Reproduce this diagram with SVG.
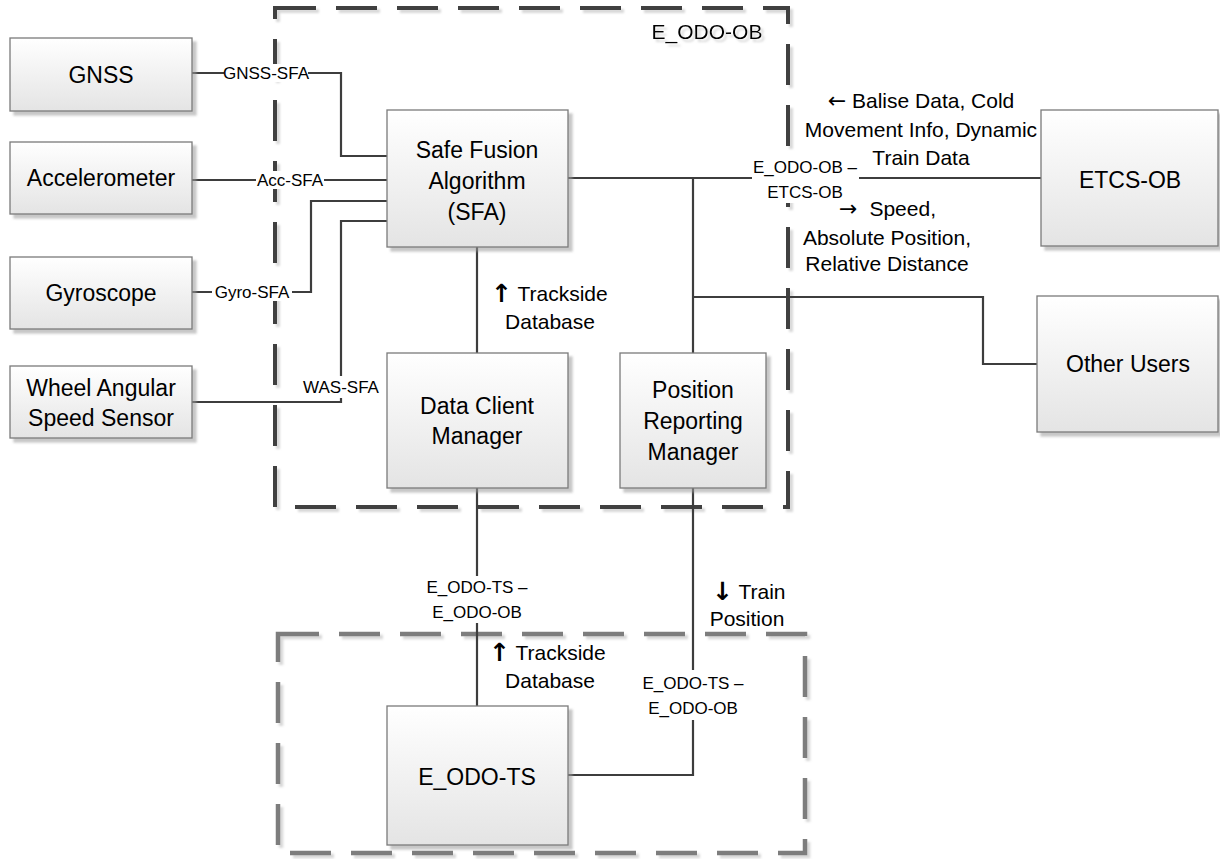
<svg xmlns="http://www.w3.org/2000/svg" width="1220" height="859" viewBox="0 0 1220 859">
<defs>
<linearGradient id="boxfill" x1="0" y1="0" x2="0" y2="1">
<stop offset="0" stop-color="#ffffff"/>
<stop offset="1" stop-color="#e4e4e4"/>
</linearGradient>
<filter id="sh" x="-10%" y="-10%" width="125%" height="125%">
<feDropShadow dx="4" dy="4" stdDeviation="1.2" flood-color="#9a9a9a" flood-opacity="0.55"/>
</filter>
<filter id="shl" x="-5%" y="-5%" width="115%" height="115%">
<feDropShadow dx="3" dy="3" stdDeviation="1" flood-color="#b0b0b0" flood-opacity="0.5"/>
</filter>
</defs>
<style>
.box{fill:url(#boxfill);stroke:#7a7a7a;stroke-width:1.3;filter:url(#sh)}
.bt{font-family:"Liberation Sans",Arial,sans-serif;font-size:23px;fill:#000;text-anchor:middle;dominant-baseline:central}
.cl{font-family:"Liberation Sans",Arial,sans-serif;font-size:17px;fill:#000;text-anchor:middle;dominant-baseline:central}
.dl{font-family:"Liberation Sans",Arial,sans-serif;font-size:21px;fill:#000;text-anchor:middle;dominant-baseline:central}
.st{text-anchor:start}
.ar{font-family:"DejaVu Sans",sans-serif;font-weight:bold;font-size:25px}
.at{font-family:"DejaVu Sans",sans-serif;font-size:22px}
.conn{fill:none;stroke:#3d3d3d;stroke-width:2.2}
.lbg{fill:#ffffff}
</style>
<rect width="1220" height="859" fill="#ffffff"/>

<g id="boundary-E_ODO-OB" filter="url(#shl)">
<path d="M275 8 H788 V507 H275 Z" fill="none" stroke="#404040" stroke-width="4" stroke-dasharray="41 20"/>
<text class="dl" x="707" y="31">E_ODO-OB</text>
</g>
<g id="boundary-E_ODO-TS" filter="url(#shl)">
<path d="M278 634 H805 V853 H278 Z" fill="none" stroke="#7d7d7d" stroke-width="4.5" stroke-dasharray="41 20"/>
</g>

<g id="connectors">
<path class="conn" d="M192 73 H341 V156 H387"/>
<path class="conn" d="M192 180 H387"/>
<path class="conn" d="M192 292 H311 V201 H387"/>
<path class="conn" d="M192 402 H341 V221 H387"/>
<path class="conn" d="M568 178 H1041"/>
<path class="conn" d="M693 178 V353"/>
<path class="conn" d="M693 297 H983 V364 H1037"/>
<path class="conn" d="M477 247 V353"/>
<path class="conn" d="M477 488 V707"/>
<path class="conn" d="M693 488 V775 H568"/>

<rect class="lbg" x="224" y="64" width="84" height="18"/>
<text class="cl" x="266" y="73">GNSS-SFA</text>
<rect class="lbg" x="256" y="171" width="68" height="18"/>
<text class="cl" x="290" y="180">Acc-SFA</text>
<rect class="lbg" x="212" y="283" width="80" height="18"/>
<text class="cl" x="252" y="292">Gyro-SFA</text>
<rect class="lbg" x="301" y="376" width="80" height="22"/>
<text class="cl" x="341" y="387">WAS-SFA</text>

<rect class="lbg" x="752" y="156" width="107" height="47"/>
<text class="cl" x="805" y="167">E_ODO-OB –</text>
<text class="cl" x="805" y="192">ETCS-OB</text>

<rect class="lbg" x="424" y="576" width="106" height="47"/>
<text class="cl" x="477" y="587">E_ODO-TS –</text>
<text class="cl" x="477" y="612">E_ODO-OB</text>

<rect class="lbg" x="640" y="670" width="106" height="50"/>
<text class="cl" x="693" y="683">E_ODO-TS –</text>
<text class="cl" x="693" y="708">E_ODO-OB</text>

<text class="dl" x="921" y="100"><tspan class="at">←</tspan> Balise Data, Cold</text>
<text class="dl" x="921" y="129">Movement Info, Dynamic</text>
<text class="dl" x="921" y="157">Train Data</text>
<text class="dl st" x="839" y="208"><tspan class="at">→</tspan><tspan dx="12">Speed,</tspan></text>
<text class="dl" x="887" y="237">Absolute Position,</text>
<text class="dl" x="887" y="263">Relative Distance</text>

<text class="dl st" x="491" y="293"><tspan class="ar">↑</tspan> Trackside</text>
<text class="dl" x="550" y="321">Database</text>
<text class="dl st" x="489" y="652"><tspan class="ar">↑</tspan> Trackside</text>
<text class="dl" x="550" y="680">Database</text>
<text class="dl st" x="712" y="591"><tspan class="ar">↓</tspan> Train</text>
<text class="dl" x="747" y="618">Position</text>
</g>

<g id="node-gnss"><rect class="box" x="10" y="38" width="182" height="73"/><text class="bt" x="101" y="75">GNSS</text></g>
<g id="node-accelerometer"><rect class="box" x="10" y="142" width="182" height="72"/><text class="bt" x="101" y="178">Accelerometer</text></g>
<g id="node-gyroscope"><rect class="box" x="10" y="257" width="182" height="72"/><text class="bt" x="101" y="293">Gyroscope</text></g>
<g id="node-was"><rect class="box" x="10" y="366" width="182" height="72"/><text class="bt" x="101" y="388">Wheel Angular</text><text class="bt" x="101" y="418">Speed Sensor</text></g>
<g id="node-sfa"><rect class="box" x="387" y="110" width="181" height="137"/><text class="bt" x="477" y="150">Safe Fusion</text><text class="bt" x="477" y="181">Algorithm</text><text class="bt" x="477" y="212">(SFA)</text></g>
<g id="node-dcm"><rect class="box" x="387" y="353" width="181" height="135"/><text class="bt" x="477" y="406">Data Client</text><text class="bt" x="477" y="436">Manager</text></g>
<g id="node-prm"><rect class="box" x="620" y="353" width="146" height="135"/><text class="bt" x="693" y="390">Position</text><text class="bt" x="693" y="421">Reporting</text><text class="bt" x="693" y="452">Manager</text></g>
<g id="node-etcs-ob"><rect class="box" x="1041" y="110" width="177" height="136"/><text class="bt" x="1130" y="180">ETCS-OB</text></g>
<g id="node-other-users"><rect class="box" x="1037" y="296" width="181" height="136"/><text class="bt" x="1128" y="364">Other Users</text></g>
<g id="node-e_odo-ts"><rect class="box" x="387" y="706" width="181" height="139"/><text class="bt" x="477" y="777">E_ODO-TS</text></g>
</svg>
